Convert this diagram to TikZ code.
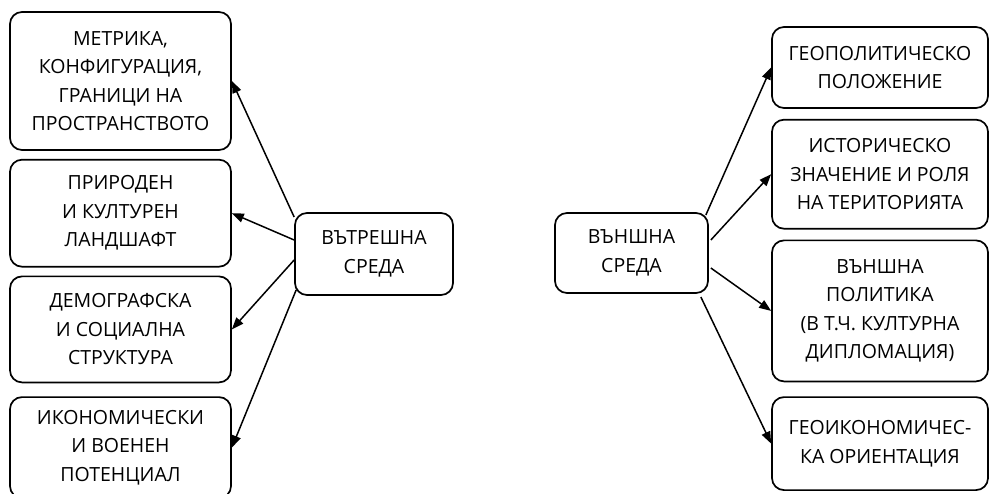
\documentclass[tikz,border=0pt]{standalone}
\usepackage{fontspec}
\setmainfont{Open Sans}
\usetikzlibrary{arrows.meta,positioning}

\begin{document}
\begin{tikzpicture}[
  x=1pt, y=-1pt,
  every node/.style={draw, line width=1.7pt, rounded corners=12pt, align=center,
    inner sep=0pt, font=\fontsize{19.5}{28.5}\selectfont},
  lbox/.style={minimum width=221pt},
  rbox/.style={minimum width=216pt},
  arr/.style={-{Triangle[length=12pt, width=9pt]}, line width=1.5pt}
]
  \useasboundingbox (0,0) rectangle (990,494);

  % centre boxes
  \node[minimum width=158pt, minimum height=82pt] (inner) at (374,254) {ВЪТРЕШНА\\СРЕДА};
  \node[minimum width=153pt, minimum height=80pt] (outer) at (631.5,253) {ВЪНШНА\\СРЕДА};

  % left column
  \node[lbox, minimum height=138pt] (metric) at (120.5,81)
    {МЕТРИКА,\\КОНФИГУРАЦИЯ,\\ГРАНИЦИ НА\\ПРОСТРАНСТВОТО};
  \node[lbox, minimum height=107pt, below=8pt of metric] (landscape)
    {ПРИРОДЕН\\И КУЛТУРЕН\\ЛАНДШАФТ};
  \node[lbox, minimum height=106pt, below=8pt of landscape] (demo)
    {ДЕМОГРАФСКА\\И СОЦИАЛНА\\СТРУКТУРА};
  \node[lbox, minimum height=101pt, below=13pt of demo] (econ)
    {ИКОНОМИЧЕСКИ\\И ВОЕНЕН\\ПОТЕНЦИАЛ};

  % right column
  \node[rbox, minimum height=81pt] (geopol) at (880,67.5)
    {ГЕОПОЛИТИЧЕСКО\\ПОЛОЖЕНИЕ};
  \node[rbox, minimum height=109pt, below=10pt of geopol] (hist)
    {ИСТОРИЧЕСКО\\ЗНАЧЕНИЕ И РОЛЯ\\НА ТЕРИТОРИЯТА};
  \node[rbox, minimum height=141pt, below=10pt of hist] (policy)
    {ВЪНШНА\\ПОЛИТИКА\\(В Т.Ч. КУЛТУРНА\\ДИПЛОМАЦИЯ)};
  \node[rbox, minimum height=93pt, below=14pt of policy] (geoecon)
    {ГЕОИКОНОМИЧЕС-\\КА ОРИЕНТАЦИЯ};

  \draw[arr] ([yshift=37pt]inner.west) -- (metric.east);
  \draw[arr] ([yshift=14pt]inner.west) -- (landscape.east);
  \draw[arr] ([yshift=-6pt]inner.west) -- (demo.east);
  \draw[arr] ([xshift=2pt, yshift=-36pt]inner.west) -- (econ.east);

  \draw[arr] ([xshift=-3pt, yshift=38pt]outer.east) -- (geopol.west);
  \draw[arr] ([xshift=2pt, yshift=13pt]outer.east) -- (hist.west);
  \draw[arr] ([xshift=2pt, yshift=-15pt]outer.east) -- (policy.west);
  \draw[arr] ([xshift=-8pt, yshift=-44pt]outer.east) -- (geoecon.west);
\end{tikzpicture}
\end{document}
